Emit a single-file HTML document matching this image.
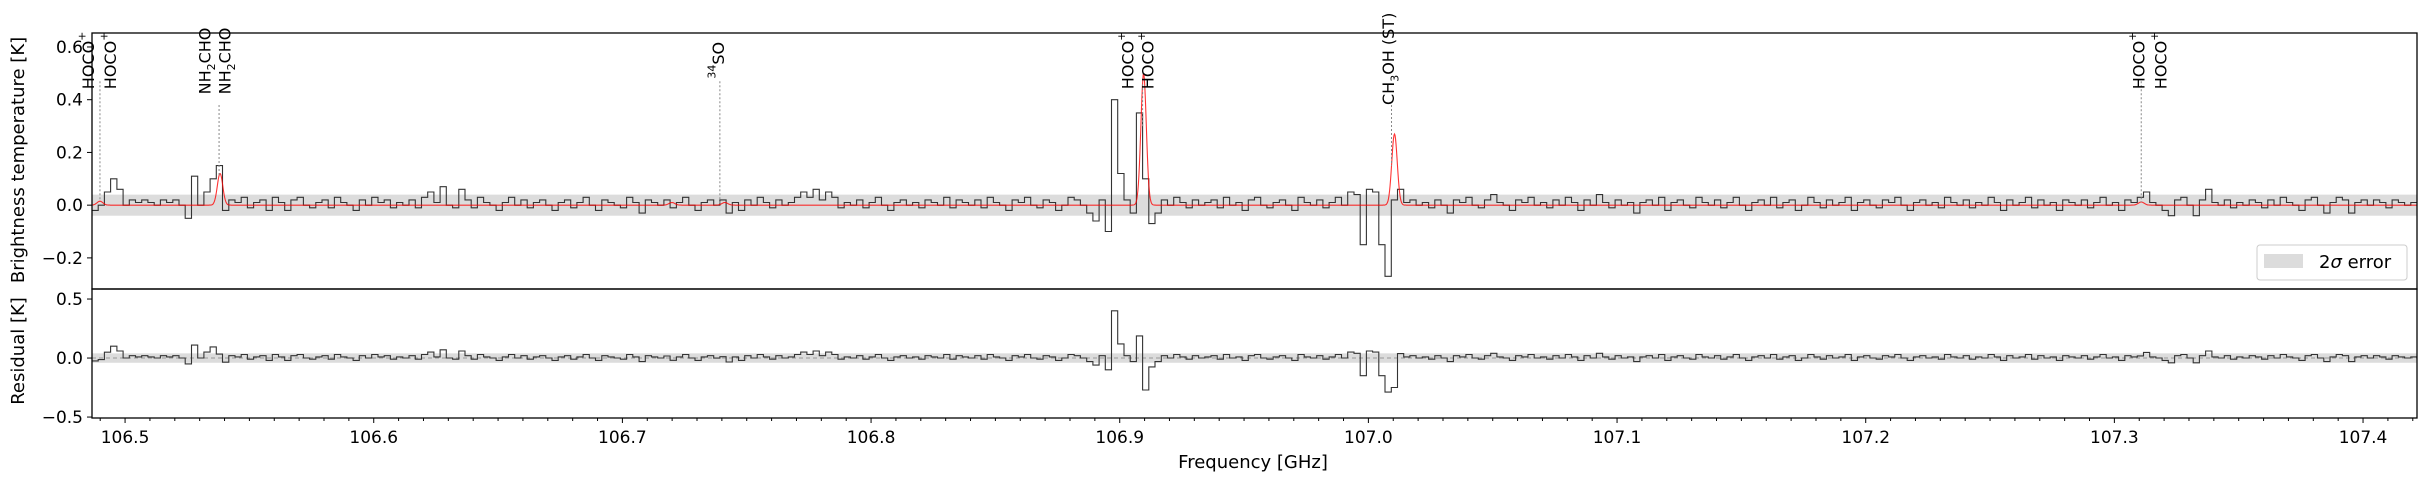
<!DOCTYPE html>
<html><head><meta charset="utf-8"><style>
html,body{margin:0;padding:0;background:#fff;}
svg{display:block;font-family:"DejaVu Sans","Liberation Sans",sans-serif;}
</style></head><body>
<svg id="chart" width="2426" height="481" viewBox="0 0 2426 481" xmlns="http://www.w3.org/2000/svg">
<g id="topPanel"></g>
<g id="botPanel"></g>
<g id="axes"></g>
<text transform="translate(24,160) rotate(-90)" text-anchor="middle" font-size="18">Brightness temperature [K]</text>
<text transform="translate(24,351) rotate(-90)" text-anchor="middle" font-size="18">Residual [K]</text>
<text x="1253" y="468" text-anchor="middle" font-size="18">Frequency [GHz]</text>
<g>
<rect x="2257" y="245" width="150" height="35" rx="3" fill="#fff" stroke="#ccc" stroke-width="1"/>
<rect x="2264" y="254" width="39" height="14" fill="#dcdcdc"/>
<text x="2319" y="268" font-size="18">2<tspan font-style="italic">σ</tspan> error</text>
</g>
</svg>
<script>
const F0 = 106.4867, DF = 0.0025;
const obs = [
-0.02,0.0,0.05,0.1,0.06,0.0,0.02,0.01,0.02,0.01,0.0,0.02,0.01,0.02,0.0,-0.05,0.11,0.0,0.05,0.1,
0.15,-0.02,0.02,0.01,0.03,-0.01,0.01,0.02,-0.02,0.03,0.01,-0.02,0.02,0.03,0.0,-0.01,0.01,0.02,-0.01,0.03,
0.01,0.0,-0.02,0.02,0.0,0.03,0.01,0.02,-0.01,0.01,0.0,0.02,-0.01,0.03,0.05,0.01,0.07,0.0,-0.01,0.06,
0.02,-0.01,0.03,0.01,0.0,-0.02,0.01,0.03,0.0,0.02,-0.01,0.01,0.02,0.0,-0.02,0.01,0.02,-0.01,0.01,0.03,
0.0,-0.02,0.02,0.01,0.0,-0.01,0.03,0.01,-0.03,0.02,0.01,0.0,0.02,-0.01,0.01,0.03,0.0,-0.02,0.01,0.02,
0.0,0.02,-0.03,0.01,-0.02,0.02,0.0,0.03,0.01,-0.01,0.02,0.0,0.01,0.03,0.05,0.03,0.06,0.02,0.05,0.03,
-0.01,0.01,0.0,0.02,-0.01,0.01,0.03,0.0,-0.02,0.01,0.02,0.0,0.01,-0.01,0.02,0.01,0.0,0.03,-0.01,0.02,
0.01,0.0,0.02,-0.01,0.03,0.01,0.0,-0.02,0.02,0.01,0.03,0.0,-0.01,0.02,0.01,-0.02,0.0,0.03,0.02,0.0,
-0.03,-0.06,0.02,-0.1,0.4,0.12,0.02,-0.03,0.35,0.1,-0.07,-0.03,0.02,0.0,0.03,0.01,-0.01,0.02,0.0,0.01,
0.02,-0.01,0.03,0.0,0.01,-0.02,0.02,0.03,0.0,-0.01,0.01,0.02,0.0,-0.02,0.03,0.01,0.0,0.02,-0.01,0.01,
0.03,0.0,0.05,0.04,-0.15,0.06,0.05,-0.15,-0.27,0.02,0.06,0.01,0.02,0.0,0.01,-0.01,0.02,0.0,-0.03,0.02,
0.01,0.03,0.0,-0.01,0.02,0.04,0.01,0.0,-0.02,0.02,0.01,0.03,0.0,0.01,-0.01,0.02,0.0,0.03,0.01,-0.02,
0.02,0.0,0.04,0.01,-0.01,0.02,0.0,0.01,-0.03,0.01,0.02,0.0,0.03,-0.02,0.01,0.02,0.0,-0.01,0.03,0.01,
0.0,0.02,-0.01,0.01,0.03,0.0,-0.02,0.01,0.02,0.0,0.03,-0.01,0.01,0.02,-0.02,0.0,0.03,0.01,-0.01,0.02,
0.0,0.01,0.03,-0.02,0.01,0.02,0.0,-0.01,0.02,0.01,0.03,0.0,-0.02,0.01,0.02,0.0,0.01,-0.01,0.03,0.01,
0.0,0.02,-0.01,0.01,0.0,0.03,0.01,-0.02,0.02,0.0,0.01,0.03,-0.01,0.02,0.0,0.01,-0.02,0.02,0.01,0.0,
0.02,-0.01,0.01,0.03,0.0,0.01,-0.02,0.02,0.01,0.03,0.05,0.01,0.0,-0.02,-0.04,0.02,0.03,0.0,-0.04,0.02,
0.06,0.01,0.0,0.02,-0.01,0.01,0.0,0.02,0.01,-0.01,0.02,0.0,0.03,0.01,0.0,-0.02,0.02,0.03,0.0,-0.03,
0.01,0.03,0.02,-0.03,0.01,0.02,0.0,0.02,0.01,-0.01,0.02,0.01,0.0,0.01];
const modelCenters = [106.4899,106.5382,106.7199,106.7412,106.9096,107.0105,107.3108];
const modelAmps    = [0.015,0.12,0.01,0.01,0.5,0.27,0.012];
const modelSigmas  = [0.0012,0.0011,0.0012,0.0012,0.0011,0.0011,0.0012];
const lineFreqs  = [106.4899,106.5378,106.7392,106.9092,107.0093,107.3108];
const lineTops   = [0.47,0.38,0.47,0.3,0.38,0.47];
const labelFreqs = [106.4852,106.4941,106.5322,106.5402,106.7387,106.9033,106.9113,107.0081,107.3100,107.3188];
const labelTexts = ['HOCO<tspan baseline-shift="super" font-size="11">+</tspan>','HOCO<tspan baseline-shift="super" font-size="11">+</tspan>','NH<tspan baseline-shift="sub" font-size="11">2</tspan>CHO','NH<tspan baseline-shift="sub" font-size="11">2</tspan>CHO','<tspan baseline-shift="super" font-size="11">34</tspan>SO','HOCO<tspan baseline-shift="super" font-size="11">+</tspan>','HOCO<tspan baseline-shift="super" font-size="11">+</tspan>','CH<tspan baseline-shift="sub" font-size="11">3</tspan>OH (ST)','HOCO<tspan baseline-shift="super" font-size="11">+</tspan>','HOCO<tspan baseline-shift="super" font-size="11">+</tspan>'];
const labelBottoms = [0.44,0.44,0.42,0.42,0.48,0.44,0.44,0.38,0.44,0.44];
const topTicks = [0.6,0.4,0.2,0.0,-0.2];
const topTickLabels = ['0.6','0.4','0.2','0.0','\u22120.2'];
const botTicks = [0.5,0.0,-0.5];
const botTickLabels = ['0.5','0.0','\u22120.5'];
const xTicks = [106.5,106.6,106.7,106.8,106.9,107.0,107.1,107.2,107.3,107.4];
const xTickLabels = ['106.5','106.6','106.7','106.8','106.9','107.0','107.1','107.2','107.3','107.4'];
const errSigma2 = 0.04;

const NS='http://www.w3.org/2000/svg';
const XL=92, XR=2417, TT=33, TB=289, BT=289, BB=418;
const FMIN=106.4867, FMAX=107.4217;
const X=f=>XL+(f-FMIN)/(FMAX-FMIN)*(XR-XL);
const YT=v=>TB-(v-(-0.318))/(0.653-(-0.318))*(TB-TT);
const YB=v=>BB-(v-(-0.508))/(0.585-(-0.508))*(BB-BT);
function mk(tag,attrs,parent){const e=document.createElementNS(NS,tag);for(const k in attrs)e.setAttribute(k,attrs[k]);parent.appendChild(e);return e;}
function model(f){let s=0;for(let k=0;k<modelCenters.length;k++){const d=(f-modelCenters[k])/modelSigmas[k];s+=modelAmps[k]*Math.exp(-0.5*d*d);}return s;}
const topG=document.getElementById('topPanel'), botG=document.getElementById('botPanel'), ax=document.getElementById('axes');

let b1=mk('rect',{x:XL,y:YT(errSigma2),width:XR-XL,height:YT(-errSigma2)-YT(errSigma2),fill:'#dcdcdc'},topG);


let b2=mk('rect',{x:XL,y:YB(errSigma2),width:XR-XL,height:YB(-errSigma2)-YB(errSigma2),fill:'#dcdcdc'},botG);


let z=mk('line',{x1:XL,x2:XR,y1:YB(0),y2:YB(0),stroke:'#999','stroke-width':1,'stroke-dasharray':'4,3'},botG);



function stepPath(vals,Y){let d='';for(let i=0;i<vals.length;i++){const x0=X(F0+i*DF),x1=X(F0+(i+1)*DF),y=Y(vals[i]);d+=(i===0?'M':'L')+x0.toFixed(1)+','+y.toFixed(1)+'L'+x1.toFixed(1)+','+y.toFixed(1);}return d;}
let p1=mk('path',{d:stepPath(obs,YT),fill:'none',stroke:'#333','stroke-width':1.1},topG);


let md='';for(let f=FMIN;f<=FMAX;f+=0.0002){md+=(md?'L':'M')+X(f).toFixed(1)+','+YT(model(f)).toFixed(1);}
let p2=mk('path',{d:md,fill:'none',stroke:'#f00','stroke-opacity':0.8,'stroke-width':1.1},topG);


const resid=obs.map((v,i)=>v-model(F0+(i+0.5)*DF));
let p3=mk('path',{d:stepPath(resid,YB),fill:'none',stroke:'#333','stroke-width':1.1},botG);



lineFreqs.forEach((f,i)=>{const l=mk('line',{x1:X(f),x2:X(f),y1:YT(lineTops[i]),y2:YT(Math.max(model(f),0.0)),stroke:'#888','stroke-width':1,'stroke-dasharray':'2,2'},topG);

});
labelFreqs.forEach((f,i)=>{const t=mk('text',{transform:`translate(${X(f).toFixed(1)},${YT(labelBottoms[i]).toFixed(1)}) rotate(-90)`,'font-size':16,'dominant-baseline':'central'},topG);t.innerHTML=labelTexts[i];

});

[[TT,TB],[BT,BB]].forEach(([a,b])=>{const r=mk('rect',{x:XL,y:a,width:XR-XL,height:b-a,fill:'none',stroke:'#000','stroke-width':1.3},ax);

});
topTicks.forEach((v,i)=>{mk('line',{x1:XL-5,x2:XL,y1:YT(v),y2:YT(v),stroke:'#000'},ax);const t=mk('text',{x:XL-9,y:YT(v)+6,'text-anchor':'end','font-size':17},ax);t.textContent=topTickLabels[i];

});
botTicks.forEach((v,i)=>{mk('line',{x1:XL-5,x2:XL,y1:YB(v),y2:YB(v),stroke:'#000'},ax);const t=mk('text',{x:XL-9,y:YB(v)+6,'text-anchor':'end','font-size':17},ax);t.textContent=botTickLabels[i];

});
for(let k=0;k<=94;k++){const f=106.48+k*0.01;if(f<FMIN-1e-9||f>FMAX)continue;const maj=Math.abs(Math.round(f*10)-f*10)<1e-6;mk('line',{x1:X(f),x2:X(f),y1:BB,y2:BB+(maj?5:3),stroke:'#000'},ax);}
xTicks.forEach((f,i)=>{const t=mk('text',{x:X(f),y:BB+25,'text-anchor':'middle','font-size':17},ax);t.textContent=xTickLabels[i];

});
</script>
</body></html>
